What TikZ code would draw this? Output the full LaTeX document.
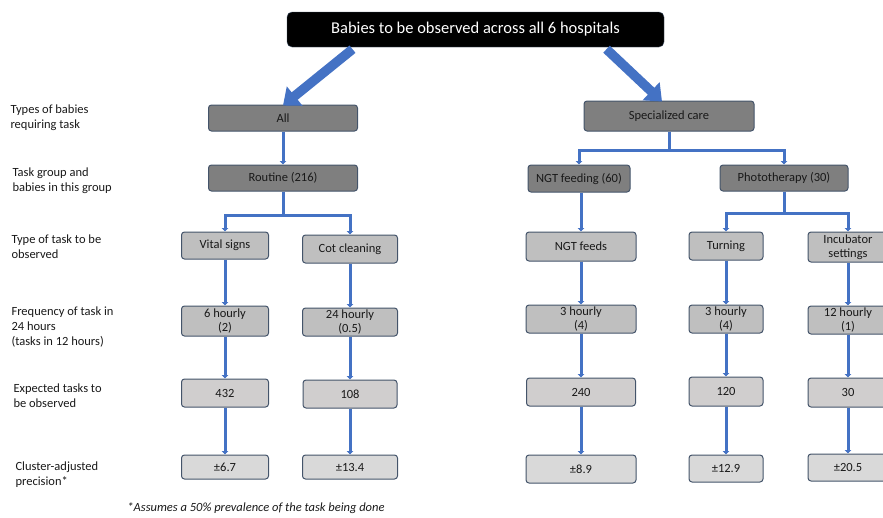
\documentclass[tikz,border=0pt]{standalone}
\usepackage{fontspec}
\setmainfont{Carlito}
\usetikzlibrary{arrows.meta}
\definecolor{cblue}{HTML}{4472C4}
\definecolor{bord}{HTML}{44546A}
\definecolor{dgray}{HTML}{7F7F7F}
\definecolor{mgray}{HTML}{BFBFBF}
\definecolor{lgray}{HTML}{D0CECE}
\definecolor{pgray}{HTML}{D9D9D9}
\tikzset{
  box/.style={draw=bord, line width=1pt, rounded corners=3pt, align=center, inner sep=1pt,
    font=\fontsize{12.5}{14.5}\selectfont, text=black!90},
  dbox/.style={box, fill=dgray},
  mbox/.style={box, fill=mgray},
  ebox/.style={box, fill=lgray},
  pbox/.style={box, fill=pgray},
  conn/.style={draw=cblue, line width=3pt, -{Triangle[width=6.5pt,length=3.5pt]}},
  bigarrow/.style={draw=cblue, line width=9.5pt, -{Triangle[width=24pt,length=15pt]}},
  lab/.style={anchor=west, align=left, font=\fontsize{12.5}{15}\selectfont, text=black!90},
}
\begin{document}
\begin{tikzpicture}[x=1pt,y=-1pt]
\useasboundingbox (0,0) rectangle (883,517);
% top
\node[draw=bord, fill=black, rounded corners=5pt, minimum width=377pt, minimum height=35pt,
  text=white, font=\fontsize{16.5}{18}\selectfont] (top) at (475.5,29.5) {Babies to be observed across all 6 hospitals};
% level 1
\node[dbox, minimum width=149pt, minimum height=26pt] (all) at (283,118) {All};
\node[dbox, minimum width=170pt, minimum height=30pt] (spec) at (669,116) {Specialized care};
% level 2
\node[dbox, minimum width=149pt, minimum height=26pt] (routine) at (283,178) {Routine (216)};
\node[dbox, minimum width=102pt, minimum height=27pt] (ngtg) at (579,178.5) {NGT feeding (60)};
\node[dbox, minimum width=128pt, minimum height=26pt] (photo) at (784,178) {Phototherapy (30)};
% level 3
\node[mbox, minimum width=87pt, minimum height=27pt] (vital) at (225,245.5) {Vital signs};
\node[mbox, minimum width=95pt, minimum height=28pt] (cot) at (350,249) {Cot cleaning};
\node[mbox, minimum width=110pt, minimum height=29pt] (ngtf) at (581,246.5) {NGT feeds};
\node[mbox, minimum width=74pt, minimum height=28pt] (turn) at (726,246) {Turning};
\node[mbox, minimum width=80pt, minimum height=30pt] (incub) at (848,247) {Incubator\\settings};
% level 4
\node[mbox, minimum width=87pt, minimum height=30pt] (f1) at (225,321) {6 hourly\\(2)};
\node[mbox, minimum width=95pt, minimum height=28pt] (f2) at (350,322) {24 hourly\\(0.5)};
\node[mbox, minimum width=110pt, minimum height=28pt] (f3) at (581,319) {3 hourly\\(4)};
\node[mbox, minimum width=74pt, minimum height=28pt] (f4) at (726,319) {3 hourly\\(4)};
\node[mbox, minimum width=80pt, minimum height=28pt] (f5) at (848,320) {12 hourly\\(1)};
% level 5
\node[ebox, minimum width=87pt, minimum height=28pt] (e1) at (225,393) {432};
\node[ebox, minimum width=94pt, minimum height=28pt] (e2) at (350,394) {108};
\node[ebox, minimum width=109pt, minimum height=28pt] (e3) at (581,392) {240};
\node[ebox, minimum width=74pt, minimum height=29pt] (e4) at (726,391.5) {120};
\node[ebox, minimum width=80pt, minimum height=29pt] (e5) at (848,392.5) {30};
% level 6
\node[pbox, minimum width=87pt, minimum height=24pt] (p1) at (225,467) {±6.7};
\node[pbox, minimum width=95pt, minimum height=24pt] (p2) at (350,467) {±13.4};
\node[pbox, minimum width=110pt, minimum height=28pt] (p3) at (581,469) {±8.9};
\node[pbox, minimum width=74pt, minimum height=27pt] (p4) at (726,468.5) {±12.9};
\node[pbox, minimum width=80pt, minimum height=27pt] (p5) at (848,467.5) {±20.5};
% left labels
\node[lab] (l1) at (7,118) {Types of babies\\requiring task};
\node[lab] (l2) at (9,180.5) {Task group and\\babies in this group};
\node[lab] (l3) at (8,247) {Type of task to be\\observed};
\node[lab] (l4) at (8,327) {Frequency of task in\\24 hours\\(tasks in 12 hours)};
\node[lab] (l5) at (10,395.5) {Expected tasks to\\be observed};
\node[lab] (l6) at (12,474.5) {Cluster-adjusted\\precision*};
\node[font=\fontsize{12.5}{15}\selectfont\itshape, text=black!90] (fn) at (256,508) {*Assumes a 50\% prevalence of the task being done};
% big arrows
\draw[bigarrow] ([xshift=-123pt,yshift=-2pt]top.south) -- ([xshift=0pt,yshift=-1pt]all.north);
\draw[bigarrow] ([xshift=131pt,yshift=-2pt]top.south) -- ([xshift=-7pt,yshift=-1pt]spec.north);
% connectors
\draw[conn] (all) -- (routine);
\draw[conn] (routine.south) -- ++(0,24) -| (vital);
\draw[conn] (routine.south) -- ++(0,24) -| (cot);
\draw[conn] (spec.south) -- ++(0,19) -| (ngtg);
\draw[conn] (spec.south) -- ++(0,19) -| (photo);
\draw[conn] (ngtg.south -| ngtf.north) -- (ngtf);
\draw[conn] (photo.south) -- ++(0,22) -| (turn);
\draw[conn] (photo.south) -- ++(0,22) -| (incub);
\foreach \a/\b in {vital/f1, cot/f2, ngtf/f3, turn/f4, incub/f5,
                   f1/e1, f2/e2, f3/e3, f4/e4, f5/e5,
                   e1/p1, e2/p2, e3/p3, e4/p4, e5/p5}
  \draw[conn] (\a) -- (\b);
\end{tikzpicture}
\end{document}
